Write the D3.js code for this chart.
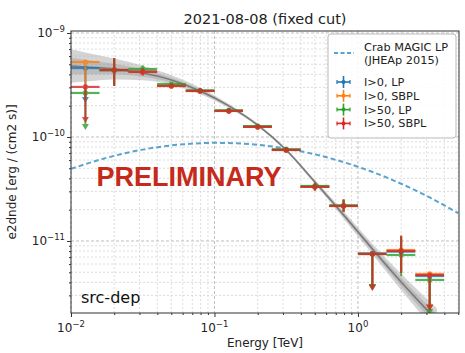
<!DOCTYPE html>
<html>
<head>
<meta charset="utf-8">
<script src="https://cdn.jsdelivr.net/npm/d3@7"></script>
<style>
  body { margin: 0; background: #fff; }
  text { font-family: "DejaVu Sans", sans-serif; }
</style>
</head>
<body>
<svg width="465" height="353"></svg>
<script>
// bins (TeV)
const binEdges = [0.01, 0.0158, 0.0251, 0.0398, 0.0631, 0.1, 0.158, 0.251, 0.398, 0.631, 1.0, 1.58, 2.51, 3.98];
const binCentres = [0.0126, 0.02, 0.0316, 0.0501, 0.0794, 0.126, 0.2, 0.316, 0.501, 0.794, 1.26, 2.0, 3.16];

// I>0, LP
const lp0Val = [4.60e-10, 4.38e-10, 4.28e-10, 3.12e-10, 2.78e-10, 1.79e-10, 1.26e-10, 7.55e-11, 3.33e-11, 2.18e-11, 7.6e-12, 7.9e-12, 4.6e-12];
const lp0Lo  = [2.27e-10, 3.1e-10, 3.95e-10, 2.97e-10, 2.63e-10, 1.69e-10, 1.19e-10, 7.1e-11, 3.07e-11, 1.92e-11, 3.6e-12, 4.95e-12, 2.3e-12];
const lp0Hi  = [4.60e-10, 5.7e-10, 4.62e-10, 3.27e-10, 2.93e-10, 1.89e-10, 1.33e-10, 8.0e-11, 3.6e-11, 2.48e-11, 7.6e-12, 1.12e-11, 4.6e-12];
const lp0Ul  = [0, 10, 12];

// I>0, SBPL
const sbpl0Val = [5.26e-10, 4.42e-10, 4.25e-10, 3.1e-10, 2.77e-10, 1.78e-10, 1.25e-10, 7.5e-11, 3.32e-11, 2.17e-11, 7.5e-12, 8.19e-12, 4.82e-12];
const sbpl0Lo  = [2.35e-10, 3.1e-10, 3.92e-10, 2.95e-10, 2.62e-10, 1.68e-10, 1.18e-10, 7.05e-11, 3.05e-11, 1.9e-11, 3.55e-12, 5.0e-12, 2.3e-12];
const sbpl0Hi  = [5.26e-10, 5.75e-10, 4.6e-10, 3.25e-10, 2.92e-10, 1.88e-10, 1.32e-10, 7.95e-11, 3.6e-11, 2.5e-11, 7.5e-12, 1.13e-11, 4.82e-12];
const sbpl0Ul  = [10, 12];

// I>50, LP
const lp50Val = [2.65e-10, 4.4e-10, 4.51e-10, 3.23e-10, 2.8e-10, 1.8e-10, 1.27e-10, 7.6e-11, 3.38e-11, 2.2e-11, 7.5e-12, 7.33e-12, 4.22e-12];
const lp50Lo  = [1.25e-10, 3.1e-10, 4.15e-10, 3.08e-10, 2.65e-10, 1.7e-10, 1.2e-10, 7.15e-11, 3.1e-11, 1.93e-11, 3.6e-12, 4.6e-12, 2.08e-12];
const lp50Hi  = [2.65e-10, 5.7e-10, 4.9e-10, 3.38e-10, 2.95e-10, 1.9e-10, 1.34e-10, 8.05e-11, 3.68e-11, 2.52e-11, 7.5e-12, 1.08e-11, 4.22e-12];
const lp50Ul  = [0, 10, 12];

// I>50, SBPL
const sbpl50Val = [3.03e-10, 4.41e-10, 4.22e-10, 3.09e-10, 2.77e-10, 1.78e-10, 1.25e-10, 7.5e-11, 3.31e-11, 2.17e-11, 7.5e-12, 8.02e-12, 4.71e-12];
const sbpl50Lo  = [1.46e-10, 3.09e-10, 3.9e-10, 2.95e-10, 2.62e-10, 1.68e-10, 1.18e-10, 7.05e-11, 3.05e-11, 1.9e-11, 3.53e-12, 4.92e-12, 2.27e-12];
const sbpl50Hi  = [3.03e-10, 5.75e-10, 4.6e-10, 3.25e-10, 2.92e-10, 1.88e-10, 1.32e-10, 7.95e-11, 3.6e-11, 2.5e-11, 7.5e-12, 1.12e-11, 4.71e-12];
const sbpl50Ul  = [0, 10, 12];

// fitted model + band
const fitE   = [0.01, 0.0126, 0.02, 0.0316, 0.0501, 0.0794, 0.126, 0.2, 0.316, 0.501, 0.794, 1.26, 2.0, 3.16, 3.55];
const fitVal = [4.82e-10, 4.71e-10, 4.51e-10, 4.12e-10, 3.53e-10, 2.77e-10, 1.99e-10, 1.30e-10, 7.50e-11, 3.69e-11, 1.78e-11, 8.38e-12, 4.03e-12, 2.03e-12, 1.70e-12];
const fitLo  = [3.33e-10, 3.41e-10, 3.58e-10, 3.51e-10, 3.18e-10, 2.58e-10, 1.90e-10, 1.26e-10, 7.24e-11, 3.53e-11, 1.64e-11, 7.46e-12, 3.36e-12, 1.58e-12, 1.29e-12];
const fitHi  = [6.96e-10, 6.50e-10, 5.67e-10, 4.84e-10, 3.92e-10, 2.97e-10, 2.08e-10, 1.35e-10, 7.76e-11, 3.87e-11, 1.93e-11, 9.40e-12, 4.85e-12, 2.62e-12, 2.24e-12];

// Crab MAGIC LP (JHEAp 2015)
const crabE   = [0.01, 0.0178, 0.0316, 0.0562, 0.1, 0.178, 0.316, 0.562, 1.0, 1.78, 3.16, 5.01];
const crabVal = [4.94e-11, 6.32e-11, 7.56e-11, 8.43e-11, 8.78e-11, 8.53e-11, 7.73e-11, 6.55e-11, 5.17e-11, 3.81e-11, 2.62e-11, 1.85e-11];

const seriesNames  = ["I>0, LP", "I>0, SBPL", "I>50, LP", "I>50, SBPL"];
const seriesColors = ["#1f77b4", "#ff7f0e", "#2ca02c", "#d62728"];

const xMajor = [0.01, 0.1, 1];
const xMajorExp = ["\u22122", "\u22121", "0"];
const yMajor = [1e-11, 1e-10, 1e-9];
const yMajorExp = ["\u221211", "\u221210", "\u22129"];

const svg = d3.select("svg");
const pLeft = 71, pRight = 459, pTop = 31, pBottom = 313;

const x = d3.scaleLog().domain([0.01, 5.06]).range([pLeft, pRight]);
const y = d3.scaleLog().domain([2.03e-12, 1.045e-9]).range([pBottom, pTop]);

svg.append("defs").append("clipPath").attr("id", "plotclip")
  .append("rect").attr("x", pLeft).attr("y", pTop).attr("width", pRight - pLeft).attr("height", pBottom - pTop);

// minor tick values
const xMinor = [];
[0.01, 0.1, 1].forEach(d => { for (let k = 2; k <= 9; k++) if (d * k <= 5.06) xMinor.push(d * k); });
const yMinor = [];
[1e-12, 1e-11, 1e-10].forEach(d => { for (let k = 2; k <= 9; k++) if (d * k >= 2.03e-12) yMinor.push(d * k); });

// grid
const grid = svg.append("g");
grid.selectAll(".gxm").data(xMinor).enter().append("line")
  .attr("x1", d => x(d)).attr("x2", d => x(d)).attr("y1", pTop).attr("y2", pBottom)
  .attr("stroke", "#d4d4d4").attr("stroke-width", 0.8).attr("stroke-dasharray", "2,2");
grid.selectAll(".gym").data(yMinor).enter().append("line")
  .attr("x1", pLeft).attr("x2", pRight).attr("y1", d => y(d)).attr("y2", d => y(d))
  .attr("stroke", "#d4d4d4").attr("stroke-width", 0.8).attr("stroke-dasharray", "2,2");
grid.selectAll(".gx").data(xMajor).enter().append("line")
  .attr("x1", d => x(d)).attr("x2", d => x(d)).attr("y1", pTop).attr("y2", pBottom)
  .attr("stroke", "#b8b8b8").attr("stroke-width", 0.9).attr("stroke-dasharray", "3,2");
grid.selectAll(".gy").data(yMajor).enter().append("line")
  .attr("x1", pLeft).attr("x2", pRight).attr("y1", d => y(d)).attr("y2", d => y(d))
  .attr("stroke", "#b8b8b8").attr("stroke-width", 0.9).attr("stroke-dasharray", "3,2");

const plot = svg.append("g").attr("clip-path", "url(#plotclip)");

// fit band
const fitIdx = d3.range(fitE.length);
plot.append("path")
  .attr("d", d3.area().x(i => x(fitE[i])).y0(i => y(fitLo[i])).y1(i => y(fitHi[i])).curve(d3.curveMonotoneX)(fitIdx))
  .attr("fill", "#a0a0a0").attr("opacity", 0.45);
plot.append("path")
  .attr("d", d3.area().x(i => x(fitE[i])).y0(i => y(Math.sqrt(fitLo[i] * fitVal[i]))).y1(i => y(Math.sqrt(fitHi[i] * fitVal[i]))).curve(d3.curveMonotoneX)(fitIdx))
  .attr("fill", "#909090").attr("opacity", 0.35);
plot.append("path")
  .attr("d", d3.line().x(i => x(fitE[i])).y(i => y(fitVal[i])).curve(d3.curveMonotoneX)(fitIdx))
  .attr("fill", "none").attr("stroke", "#7a7a7a").attr("stroke-width", 1.6);

// crab reference
plot.append("path")
  .attr("d", d3.line().x((d, i) => x(crabE[i])).y(d => y(d)).curve(d3.curveMonotoneX)(crabVal))
  .attr("fill", "none").attr("stroke", "#5ba3cf").attr("stroke-width", 2).attr("stroke-dasharray", "5,3");

// PRELIMINARY
svg.append("text").attr("x", 189).attr("y", 186).attr("text-anchor", "middle")
  .style("font-family", "'Liberation Sans', Arial, sans-serif")
  .attr("font-size", 27).attr("font-weight", "bold").attr("fill", "#c62a1b")
  .text("PRELIMINARY");

// data points
const allSeries = [
  [lp0Val, lp0Lo, lp0Hi, lp0Ul],
  [sbpl0Val, sbpl0Lo, sbpl0Hi, sbpl0Ul],
  [lp50Val, lp50Lo, lp50Hi, lp50Ul],
  [sbpl50Val, sbpl50Lo, sbpl50Hi, sbpl50Ul]
];
allSeries.forEach((s, si) => {
  const [val, lo, hi, ul] = s;
  const col = seriesColors[si];
  const g = plot.append("g").attr("opacity", 0.8);
  val.forEach((v, i) => {
    const cx = x(binCentres[i]);
    g.append("line").attr("x1", x(binEdges[i])).attr("x2", x(binEdges[i + 1]))
      .attr("y1", y(v)).attr("y2", y(v)).attr("stroke", col).attr("stroke-width", 2.2);
    g.append("line").attr("x1", cx).attr("x2", cx)
      .attr("y1", y(lo[i])).attr("y2", y(hi[i])).attr("stroke", col).attr("stroke-width", 2);
    g.append("circle").attr("cx", cx).attr("cy", y(v)).attr("r", 2.6).attr("fill", col);
    if (ul.includes(i)) {
      const ty = y(lo[i]);
      g.append("path").attr("d", `M${cx - 3.5},${ty - 3} L${cx + 3.5},${ty - 3} L${cx},${ty + 3} Z`).attr("fill", col);
    }
  });
});

// axes frame
svg.append("rect").attr("x", pLeft).attr("y", pTop).attr("width", pRight - pLeft).attr("height", pBottom - pTop)
  .attr("fill", "none").attr("stroke", "#333").attr("stroke-width", 1);

// ticks
const xAx = svg.append("g").attr("transform", `translate(0,${pBottom})`);
xAx.call(d3.axisBottom(x).tickValues(xMajor).tickFormat("").tickSize(4));
xAx.append("g").call(d3.axisBottom(x).tickValues(xMinor).tickFormat("").tickSize(2));
xAx.selectAll(".domain").remove();
xAx.selectAll("line").attr("stroke", "#333");

const yAx = svg.append("g").attr("transform", `translate(${pLeft},0)`);
yAx.call(d3.axisLeft(y).tickValues(yMajor).tickFormat("").tickSize(4));
yAx.append("g").call(d3.axisLeft(y).tickValues(yMinor).tickFormat("").tickSize(2));
yAx.selectAll(".domain").remove();
yAx.selectAll("line").attr("stroke", "#333");

// tick labels with exponents
xMajor.forEach((d, i) => {
  const t = svg.append("text").attr("x", x(d)).attr("y", 332).attr("text-anchor", "middle")
    .attr("font-size", 12).attr("fill", "#222");
  t.append("tspan").text("10");
  t.append("tspan").attr("dy", -5).attr("font-size", 8.5).text(xMajorExp[i]);
});
yMajor.forEach((d, i) => {
  const t = svg.append("text").attr("x", 65).attr("y", y(d) + 4).attr("text-anchor", "end")
    .attr("font-size", 12).attr("fill", "#222");
  t.append("tspan").text("10");
  t.append("tspan").attr("dy", -5).attr("font-size", 8.5).text(yMajorExp[i]);
});

// titles
svg.append("text").attr("x", (pLeft + pRight) / 2).attr("y", 24).attr("text-anchor", "middle")
  .attr("font-size", 14.5).attr("fill", "#222").text("2021-08-08 (fixed cut)");
svg.append("text").attr("x", (pLeft + pRight) / 2).attr("y", 347).attr("text-anchor", "middle")
  .attr("font-size", 12).attr("fill", "#222").text("Energy [TeV]");
svg.append("text").attr("transform", `translate(16,${(pTop + pBottom) / 2}) rotate(-90)`)
  .attr("text-anchor", "middle").attr("font-size", 12).attr("fill", "#222")
  .text("e2dnde [erg / (cm2 s)]");

svg.append("text").attr("x", 81).attr("y", 303).attr("font-size", 16).attr("fill", "#111").text("src-dep");

// legend
const leg = svg.append("g");
leg.append("rect").attr("x", 328).attr("y", 34).attr("width", 128).attr("height", 104).attr("rx", 3)
  .attr("fill", "#fff").attr("fill-opacity", 0.85).attr("stroke", "#bbb");
leg.append("line").attr("x1", 334).attr("x2", 354).attr("y1", 53).attr("y2", 53)
  .attr("stroke", "#5ba3cf").attr("stroke-width", 2).attr("stroke-dasharray", "4,2.5");
leg.append("text").attr("x", 364).attr("y", 51).attr("font-size", 11.3).attr("fill", "#222").text("Crab MAGIC LP");
leg.append("text").attr("x", 364).attr("y", 64).attr("font-size", 11.3).attr("fill", "#222").text("(JHEAp 2015)");
seriesNames.forEach((n, i) => {
  const ly = 82 + i * 13.8;
  const col = seriesColors[i];
  leg.append("line").attr("x1", 337).attr("x2", 350).attr("y1", ly).attr("y2", ly).attr("stroke", col).attr("stroke-width", 1.6);
  leg.append("line").attr("x1", 343.5).attr("x2", 343.5).attr("y1", ly - 6).attr("y2", ly + 6).attr("stroke", col).attr("stroke-width", 1.6);
  leg.append("line").attr("x1", 337).attr("x2", 337).attr("y1", ly - 2).attr("y2", ly + 2).attr("stroke", col).attr("stroke-width", 1.2);
  leg.append("line").attr("x1", 350).attr("x2", 350).attr("y1", ly - 2).attr("y2", ly + 2).attr("stroke", col).attr("stroke-width", 1.2);
  leg.append("circle").attr("cx", 343.5).attr("cy", ly).attr("r", 2).attr("fill", col);
  leg.append("text").attr("x", 364).attr("y", ly + 4).attr("font-size", 11.3).attr("fill", "#222").text(n);
});
</script>
</body>
</html>
